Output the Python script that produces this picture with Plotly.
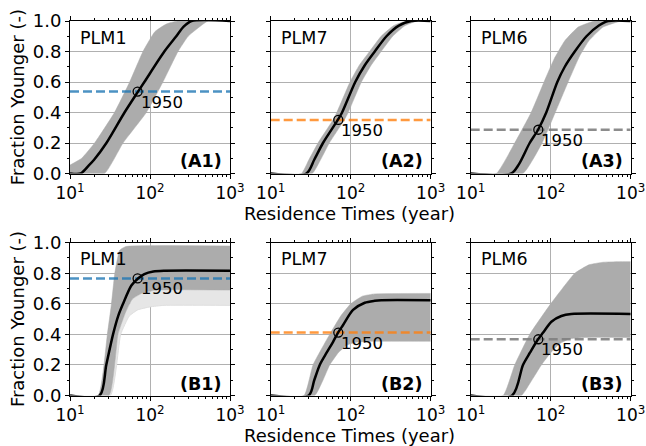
import math
import plotly.graph_objects as go

# ---------------- data ----------------
panel_names = ["PLM1", "PLM7", "PLM6", "PLM1", "PLM7", "PLM6"]
panel_tags = ["(A1)", "(A2)", "(A3)", "(B1)", "(B2)", "(B3)"]
line_colors = ["rgba(31,119,180,0.8)", "rgba(255,127,14,0.8)", "rgba(128,128,128,0.9)",
               "rgba(31,119,180,0.8)", "rgba(255,127,14,0.8)", "rgba(128,128,128,0.9)"]
fraction_1950 = [0.537, 0.351, 0.287, 0.766, 0.412, 0.368]
age_1950 = 70

# A1
a1_mean_t = [10, 13.6, 17, 20, 28.5, 48, 70.8, 85, 151, 213, 260, 330, 1000]
a1_mean_y = [0, 0, 0.05, 0.09, 0.2, 0.4, 0.537, 0.6, 0.8, 0.9, 0.96, 1.0, 1.0]
a1_hi_t = [10, 14, 20.3, 36, 55.7, 81.7, 115, 160, 220, 1000]
a1_hi_y = [0.055, 0.1, 0.2, 0.4, 0.6, 0.8, 0.93, 0.98, 1.0, 1.0]
a1_lo_t = [10, 27, 46, 90, 145, 224, 300, 531, 1000]
a1_lo_y = [0, 0, 0.2, 0.4, 0.6, 0.8, 0.9, 1.0, 1.0]

# A2
a2_mean_t = [10, 27.9, 35, 45, 69, 78, 114, 150, 200, 280, 400, 570, 1000]
a2_mean_y = [0, 0, 0.09, 0.2, 0.351, 0.4, 0.6, 0.71, 0.8, 0.9, 0.97, 1.0, 1.0]
a2_hi_t = [10, 24.2, 30, 39, 60, 67, 98, 128, 172, 240, 345, 495, 1000]
a2_hi_y = [0, 0, 0.09, 0.2, 0.351, 0.4, 0.6, 0.71, 0.8, 0.9, 0.97, 1.0, 1.0]
a2_lo_t = [10, 33, 42, 54, 83, 93, 136, 180, 240, 335, 478, 680, 1000]
a2_lo_y = [0, 0, 0.09, 0.2, 0.351, 0.4, 0.6, 0.71, 0.8, 0.9, 0.97, 1.0, 1.0]

# A3
a3_mean_t = [10, 32.2, 40, 54.6, 69.5, 88, 121, 150, 200, 280, 400, 522, 1000]
a3_mean_y = [0, 0, 0.06, 0.2, 0.287, 0.4, 0.6, 0.7, 0.8, 0.9, 0.97, 1.0, 1.0]
a3_hi_t = [10, 20.9, 35.5, 57, 82.5, 110, 150, 220, 355, 1000]
a3_hi_y = [0, 0, 0.2, 0.4, 0.6, 0.75, 0.87, 0.96, 1.0, 1.0]
a3_lo_t = [10, 45, 78, 114, 165, 230, 300, 450, 760, 1000]
a3_lo_y = [0, 0, 0.2, 0.4, 0.6, 0.77, 0.87, 0.96, 1.0, 1.0]

# B1
b1_mean_t = [10, 23.5, 28.4, 34.5, 40, 46, 58.5, 70.8, 85, 110, 152, 1000]
b1_mean_y = [0, 0, 0.2, 0.4, 0.52, 0.6, 0.72, 0.766, 0.795, 0.812, 0.817, 0.817]
b1_hi_t = [10, 22.5, 29.3, 33, 36.3, 41.7, 50, 1000]
b1_hi_y = [0, 0, 0.4, 0.6, 0.8, 0.95, 0.975, 0.978]
b1_lo_t = [10, 30.7, 39.8, 50, 60, 80, 120, 1000]
b1_lo_y = [0, 0, 0.4, 0.55, 0.63, 0.67, 0.69, 0.69]
b1_faint_t = [10, 32, 43, 55, 70, 100, 150, 1000]
b1_faint_y = [0, 0, 0.4, 0.52, 0.56, 0.58, 0.59, 0.59]

# B2
b2_mean_t = [10, 29.9, 35, 41, 50, 60, 69.5, 80, 107, 150, 200, 241, 1000]
b2_mean_y = [0, 0, 0.1, 0.2, 0.28, 0.35, 0.412, 0.46, 0.56, 0.607, 0.62, 0.624, 0.624]
b2_hi_t = [10, 26.1, 33.8, 54.6, 75, 100, 140, 200, 1000]
b2_hi_y = [0, 0, 0.2, 0.4, 0.52, 0.6, 0.65, 0.665, 0.668]
b2_lo_t = [10, 35.5, 45, 54.6, 70, 90, 120, 200, 1000]
b2_lo_y = [0, 0, 0.1, 0.2, 0.28, 0.33, 0.35, 0.355, 0.355]

# B3
b3_mean_t = [10, 32.9, 45, 55, 69.5, 80, 102, 136, 181, 1000]
b3_mean_y = [0, 0, 0.2, 0.28, 0.368, 0.41, 0.483, 0.52, 0.533, 0.533]
b3_hi_t = [10, 25.4, 35.5, 54.6, 100, 140, 200, 300, 450, 700, 1000]
b3_hi_y = [0, 0, 0.2, 0.4, 0.6, 0.7, 0.8, 0.855, 0.872, 0.876, 0.876]
b3_lo_t = [10, 43, 55, 76.5, 100, 130, 170, 250, 1000]
b3_lo_y = [0, 0, 0.08, 0.2, 0.28, 0.34, 0.37, 0.38, 0.38]

x_tick_vals = [10, 100, 1000]
x_tick_text = ["10<sup>1</sup>", "10<sup>2</sup>", "10<sup>3</sup>"]
y_tick_vals = [0.0, 0.2, 0.4, 0.6, 0.8, 1.0]
y_tick_text = ["0.0", "0.2", "0.4", "0.6", "0.8", "1.0"]
x_minor = [20, 30, 40, 50, 60, 70, 80, 90, 200, 300, 400, 500, 600, 700, 800, 900]
y_minor = [0.1, 0.3, 0.5, 0.7, 0.9]
x_title = "Residence Times (year)"
y_title = "Fraction Younger (-)"

means = [(a1_mean_t, a1_mean_y), (a2_mean_t, a2_mean_y), (a3_mean_t, a3_mean_y),
         (b1_mean_t, b1_mean_y), (b2_mean_t, b2_mean_y), (b3_mean_t, b3_mean_y)]
highs = [(a1_hi_t, a1_hi_y), (a2_hi_t, a2_hi_y), (a3_hi_t, a3_hi_y),
         (b1_hi_t, b1_hi_y), (b2_hi_t, b2_hi_y), (b3_hi_t, b3_hi_y)]
lows = [(a1_lo_t, a1_lo_y), (a2_lo_t, a2_lo_y), (a3_lo_t, a3_lo_y),
        (b1_lo_t, b1_lo_y), (b2_lo_t, b2_lo_y), (b3_lo_t, b3_lo_y)]
faint = {3: (b1_faint_t, b1_faint_y)}

# ---------------- layout geometry ----------------
W, H = 646, 446
col_px = [(70, 230), (270.7, 430.7), (470.7, 630.7)]
row_px = [(21, 173.5), (242.7, 395.5)]

FONT = "DejaVu Sans"
BAND = "rgb(172,172,172)"
FAINT = "rgb(230,230,230)"

fig = go.Figure()
annotations = []

for i in range(6):
    r, c = divmod(i, 3)
    n = i + 1
    xa = "x" if n == 1 else f"x{n}"
    ya = "y" if n == 1 else f"y{n}"
    xkey = "xaxis" if n == 1 else f"xaxis{n}"
    ykey = "yaxis" if n == 1 else f"yaxis{n}"

    if i in faint:
        ft, fy = faint[i]
        fig.add_trace(go.Scatter(x=ft, y=fy, mode="lines",
                                 line=dict(width=1, color="rgb(222,222,222)", shape="spline", smoothing=0.4),
                                 xaxis=xa, yaxis=ya, showlegend=False, hoverinfo="skip"))
        lt, ly = lows[i]
        fig.add_trace(go.Scatter(x=lt, y=ly, mode="lines", line=dict(width=0, color=FAINT),
                                 fill="tonexty", fillcolor=FAINT,
                                 xaxis=xa, yaxis=ya, showlegend=False, hoverinfo="skip"))
    lt, ly = lows[i]
    fig.add_trace(go.Scatter(x=lt, y=ly, mode="lines",
                             line=dict(width=0.5, color=BAND, shape="spline", smoothing=0.4),
                             xaxis=xa, yaxis=ya, showlegend=False, hoverinfo="skip"))
    ht, hy = highs[i]
    fig.add_trace(go.Scatter(x=ht, y=hy, mode="lines",
                             line=dict(width=0.5, color=BAND, shape="spline", smoothing=0.4),
                             fill="tonexty", fillcolor=BAND,
                             xaxis=xa, yaxis=ya, showlegend=False, hoverinfo="skip"))
    # 1950 fraction dashed line
    fig.add_trace(go.Scatter(x=[10, 1000], y=[fraction_1950[i]] * 2, mode="lines",
                             line=dict(color=line_colors[i], width=2.5, dash="9px,4px"),
                             xaxis=xa, yaxis=ya, showlegend=False))
    mt, my = means[i]
    fig.add_trace(go.Scatter(x=mt, y=my, mode="lines",
                             line=dict(color="black", width=2.5, shape="spline", smoothing=0.8),
                             xaxis=xa, yaxis=ya, showlegend=False))
    fig.add_trace(go.Scatter(x=[age_1950], y=[fraction_1950[i]], mode="markers",
                             marker=dict(symbol="circle-open", size=9, color="black",
                                         line=dict(width=1.3, color="black")),
                             xaxis=xa, yaxis=ya, showlegend=False))

    x0, x1 = col_px[c]
    y0, y1 = row_px[r]
    fig.layout[xkey] = dict(
        domain=[x0 / W, x1 / W], anchor=ya, type="log", range=[1, 3], automargin=False,
        tickmode="array", tickvals=x_tick_vals, ticktext=x_tick_text,
        ticks="outside", ticklen=4, tickwidth=1, tickcolor="black",
        showline=True, linecolor="black", linewidth=1, mirror="ticks",
        showgrid=True, gridcolor="#b0b0b0", gridwidth=1,
        minor=dict(tickmode="array", tickvals=x_minor, ticks="outside", ticklen=2,
                   tickcolor="black", showgrid=False),
        tickfont=dict(family=FONT, size=17, color="black"), zeroline=False,
    )
    fig.layout[ykey] = dict(
        domain=[1 - y1 / H, 1 - y0 / H], anchor=xa, range=[0, 1], automargin=False,
        tickmode="array", tickvals=y_tick_vals, ticktext=y_tick_text,
        showticklabels=(c == 0),
        ticks="outside", ticklen=4, tickwidth=1, tickcolor="black",
        showline=True, linecolor="black", linewidth=1, mirror="ticks",
        showgrid=True, gridcolor="#b0b0b0", gridwidth=1,
        minor=dict(tickmode="array", tickvals=y_minor, ticks="outside", ticklen=2,
                   tickcolor="black", showgrid=False),
        tickfont=dict(family=FONT, size=18, color="black"), zeroline=False,
    )

    annotations.append(dict(text=panel_names[i], xref=f"{xa} domain", yref=f"{ya} domain",
                            x=0.05, y=0.97, xanchor="left", yanchor="top", showarrow=False,
                            font=dict(family=FONT, size=17.5, color="black")))
    annotations.append(dict(text=f"<b>{panel_tags[i]}</b>", xref=f"{xa} domain", yref=f"{ya} domain",
                            x=0.965, y=0.0, xanchor="right", yanchor="bottom", showarrow=False,
                            font=dict(family=FONT, size=17.5, color="black")))
    annotations.append(dict(text="1950", xref=xa, yref=ya, x=math.log10(age_1950),
                            y=fraction_1950[i], xanchor="left", yanchor="top", showarrow=False,
                            xshift=1, yshift=1,
                            font=dict(family=FONT, size=16.5, color="black")))

for r in range(2):
    y0, y1 = row_px[r]
    annotations.append(dict(text=y_title, xref="paper", yref="paper", x=17 / W,
                            y=1 - (y0 + y1) / 2 / H, xanchor="center", yanchor="middle",
                            textangle=-90, showarrow=False,
                            font=dict(family=FONT, size=18, color="black")))
    ty = 213.5 if r == 0 else 435
    annotations.append(dict(text=x_title, xref="paper", yref="paper", x=349 / W,
                            y=1 - ty / H, xanchor="center", yanchor="middle", showarrow=False,
                            font=dict(family=FONT, size=18, color="black")))

fig.update_layout(width=W, height=H, margin=dict(l=0, r=0, t=0, b=0),
                  paper_bgcolor="white", plot_bgcolor="white", annotations=annotations,
                  showlegend=False)

fig.write_html("out.html", config={"displayModeBar": False},
               post_script="document.body.style.margin='0';document.body.style.padding='0';")
